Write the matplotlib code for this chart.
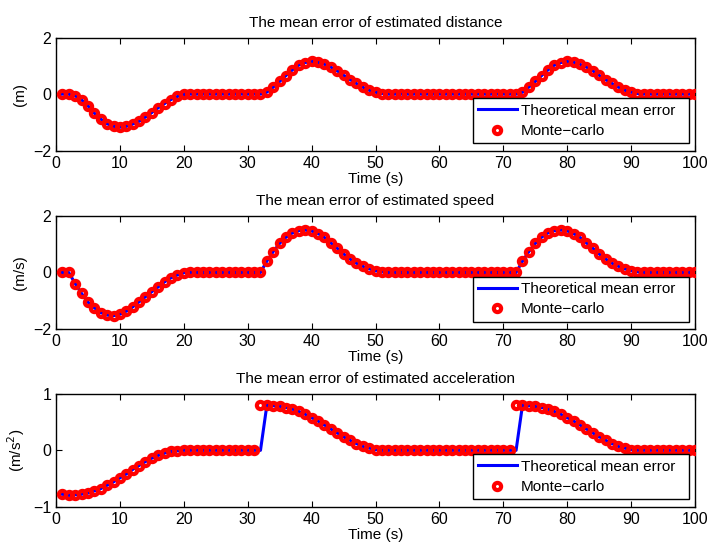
import numpy as np
import matplotlib
matplotlib.use('Agg')
import matplotlib.pyplot as plt

plt.rcParams['font.family'] = ['Liberation Sans', 'DejaVu Sans']
plt.rcParams['font.size'] = 11

## Time axis (s)
t = np.arange(1, 101)

## Distance error (m): one bump repeated
dist_dip = [0, 0, -0.06, -0.2, -0.41, -0.67, -0.88, -1.05, -1.14, -1.17,
            -1.14, -1.06, -0.96, -0.81, -0.65, -0.48, -0.33, -0.19, -0.08, -0.01]
dist_bump = [0.07, 0.25, 0.45, 0.66, 0.86, 1.03, 1.12, 1.16, 1.13, 1.06,
             0.96, 0.83, 0.67, 0.52, 0.38, 0.25, 0.14, 0.07, 0.02, 0.0]
dist_theory = dist_dip + [0]*12 + dist_bump + [0]*20 + dist_bump + [0]*8
dist_mc = list(dist_theory)

## Speed error (m/s)
speed_dip = [0, 0, -0.39, -0.74, -1.05, -1.25, -1.42, -1.51, -1.53, -1.48,
             -1.37, -1.22, -1.04, -0.86, -0.68, -0.51, -0.33, -0.19, -0.09, -0.01]
speed_bump = [0.4, 0.74, 1.03, 1.25, 1.4, 1.48, 1.5, 1.47, 1.38, 1.24,
              1.05, 0.86, 0.66, 0.48, 0.33, 0.22, 0.13, 0.06, 0.02, 0.0]
speed_theory = speed_dip + [0]*12 + speed_bump + [0]*20 + speed_bump + [0]*8
speed_mc = list(speed_theory)

## Acceleration error (m/s^2)
acc_dip = [-0.78, -0.8, -0.79, -0.78, -0.76, -0.72, -0.68, -0.62, -0.56, -0.49,
           -0.42, -0.34, -0.27, -0.2, -0.14, -0.09, -0.05, -0.02, -0.01, 0.0]
acc_bump = [0.8, 0.79, 0.78, 0.76, 0.73, 0.69, 0.64, 0.58, 0.52, 0.45,
            0.38, 0.31, 0.24, 0.18, 0.12, 0.07, 0.04, 0.01, 0.0]
acc_theory = acc_dip + [0]*12 + acc_bump + [0]*21 + acc_bump + [0]*9
# monte-carlo jumps one sample earlier
acc_mc = acc_dip + [0]*11 + [0.8] + acc_bump + [0]*20 + [0.8] + acc_bump + [0]*9

titles = ['The mean error of estimated distance',
          'The mean error of estimated speed',
          'The mean error of estimated acceleration']
ylabels = ['(m)', '(m/s)', '(m/s$^2$)']
ylims = [(-2, 2), (-2, 2), (-1, 1)]
yticks = [[-2, 0, 2], [-2, 0, 2], [-1, 0, 1]]
theory = [dist_theory, speed_theory, acc_theory]
mc = [dist_mc, speed_mc, acc_mc]

fig = plt.figure(figsize=(7.09, 5.44), dpi=100)
W, H = 709.0, 544.0
boxes = [(37.7, 150.7), (216, 329), (394, 506.7)]

for i in range(3):
    top, bot = boxes[i]
    ax = fig.add_axes([56/W, 1-bot/H, (695-56)/W, (bot-top)/H])
    ax.plot(t, theory[i], color='blue', lw=2.2, label='Theoretical mean error', zorder=2)
    ax.plot(t, mc[i], 'o', color='red', mfc='none', mew=3.0, ms=5.2,
            label='Monte\u2212carlo', zorder=3)
    ax.set_xlim(0, 100)
    ax.set_ylim(*ylims[i])
    ax.set_xticks(range(0, 101, 10))
    ax.set_yticks(yticks[i])
    ax.tick_params(direction='in', top=True, right=True, length=4, labelsize=11.5)
    for s in ax.spines.values():
        s.set_linewidth(1.0)
    ax.set_title(titles[i], fontsize=11, pad=8)
    ax.set_xlabel('Time (s)', fontsize=11, labelpad=1)
    ax.set_ylabel(ylabels[i], fontsize=11, labelpad=4)
    leg = ax.legend(loc='lower left', bbox_to_anchor=(0.6526, 0.065, 0.338, 0.3),
                    mode='expand', borderaxespad=0, fancybox=False,
                    edgecolor='black', framealpha=1, fontsize=11,
                    handlelength=2.5, handletextpad=0.3, borderpad=0.35,
                    labelspacing=0.42)
    leg.get_frame().set_linewidth(1.0)

fig.savefig('out.png', dpi=100)
